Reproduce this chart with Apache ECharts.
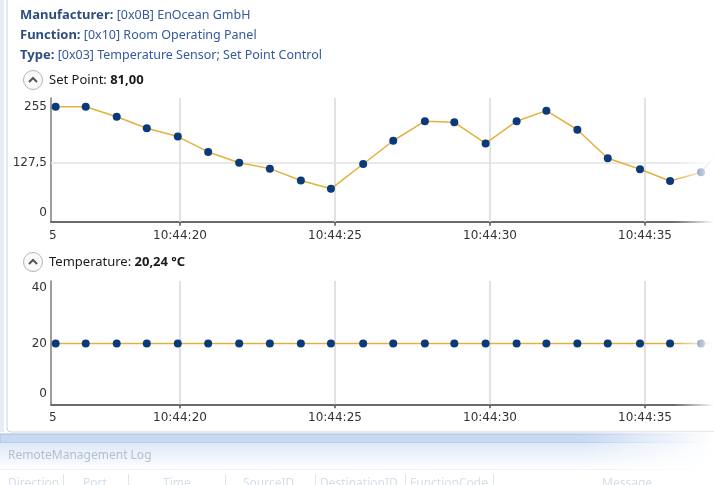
<!DOCTYPE html>
<html>
<head>
<meta charset="utf-8">
<script src="https://cdn.jsdelivr.net/npm/echarts@6/dist/echarts.min.js"></script>
<style>
  html, body { margin: 0; padding: 0; background: #fff; }
  #chart { width: 714px; height: 485px; }
</style>
</head>
<body>
<div id="chart"></div>
<script>
// seconds after 10:44:00 for every sample
const sampleTimes = [15.99, 16.96, 17.96, 18.93, 19.93, 20.91, 21.91, 22.90, 23.90, 24.87,
  25.91, 26.88, 27.90, 28.85, 29.86, 30.86, 31.82, 32.82, 33.80, 34.84, 35.81, 36.81, 37.80];
const setPoint = [255, 255, 232, 206, 187, 152, 127.5, 114, 87, 68,
  124.5, 177.5, 222, 219.5, 171.5, 222, 246, 202.5, 137.5, 112.5, 86, 105.5, 190];
const temperature = [20.24, 20.24, 20.24, 20.24, 20.24, 20.24, 20.24, 20.24, 20.24, 20.24,
  20.24, 20.24, 20.24, 20.24, 20.24, 20.24, 20.24, 20.24, 20.24, 20.24, 20.24, 20.24, 20.24];
const timeTicks = [20, 25, 30, 35];
const setPointTicks = [0, 127.5, 255];
const tempTicks = [0, 20, 40];
const logColumns = [
  { name: "Direction", x: 8 }, { name: "Port", x: 83 }, { name: "Time", x: 163 },
  { name: "SourceID", x: 243 }, { name: "DestinationID", x: 320 },
  { name: "FunctionCode", x: 410 }, { name: "Message", x: 602 }
];
const logSeparators = [63, 128, 225, 315, 405, 493];

const chart = echarts.init(document.getElementById("chart"));
const axisFont = "DejaVu Sans";
const uiFont = "Noto Sans";

const fmtNum = (v) => String(v).replace(".", ",");
const xAxisOf = (idx) => ({
  type: "value",
  gridIndex: idx,
  min: 15.84,
  max: 15.84 + 663 / 31,
  axisLine: { show: true, onZero: false, lineStyle: { color: "#6b6b6b", width: 2 } },
  axisTick: { show: true, customValues: timeTicks, length: 4, lineStyle: { color: "#555", width: 1.5 } },
  axisLabel: {
    customValues: timeTicks, margin: 8, color: "#333", fontSize: 12, fontFamily: axisFont,
    formatter: (v) => "10:44:" + v
  },
  splitLine: { show: false }
});
const yAxisOf = (idx, min, max, ticks) => ({
  type: "value",
  gridIndex: idx,
  min: min,
  max: max,
  axisLine: { show: true, onZero: false, lineStyle: { color: "#7d7d7d", width: 1.5 } },
  axisTick: { show: false },
  axisLabel: {
    customValues: ticks, margin: 4, color: "#333", fontSize: 12, fontFamily: axisFont,
    formatter: (v) => (v === 0 ? "{z|0}" : fmtNum(v)),
    rich: { z: { fontSize: 12, fontFamily: axisFont, color: "#333", padding: [0, 0, 12, 0] } }
  },
  splitLine: { show: false }
});
const gridLines = (hLine) => ({
  silent: true,
  z: 1,
  symbol: "none",
  label: { show: false },
  lineStyle: { color: "#e2e2e2", width: 2, type: "solid" },
  data: timeTicks.map((t) => ({ xAxis: t })).concat([{ yAxis: hLine, lineStyle: { width: 1.5 } }])
});
const lineSeries = (idx, values) => ({
  type: "line",
  xAxisIndex: idx,
  yAxisIndex: idx,
  z: 3,
  data: sampleTimes.map((t, i) => [t, values[i]]),
  symbol: "circle",
  symbolSize: 8,
  showAllSymbol: true,
  itemStyle: { color: "#0b3a7a" },
  lineStyle: { color: "#e3b13c", width: 1.5 },
  emphasis: { disabled: true }
});

const header = (y, label, value) => ({
  type: "text", x: 20, y: y,
  style: {
    text: "{b|" + label + "} {v|" + value + "}",
    verticalAlign: "middle",
    rich: {
      b: { fontFamily: uiFont, fontSize: 13, fontWeight: "bold", fill: "#2e4d80" },
      v: { fontFamily: uiFont, fontSize: 12.5, fill: "#35599a" }
    }
  }
});
const toggle = (y, label, value) => [
  { type: "circle", shape: { cx: 33, cy: y, r: 9.5 },
    style: { fill: "#fafafa", stroke: "#b5b5b5", lineWidth: 1 } },
  { type: "polyline", shape: { points: [[29, y + 2], [33, y - 2], [37, y + 2]] },
    style: { stroke: "#555", lineWidth: 2, fill: null } },
  { type: "text", x: 49, y: y,
    style: {
      text: "{r|" + label + "} {b|" + value + "}",
      verticalAlign: "middle",
      rich: {
        r: { fontFamily: uiFont, fontSize: 13, fill: "#1a1a1a" },
        b: { fontFamily: uiFont, fontSize: 13, fontWeight: "bold", fill: "#1a1a1a" }
      }
    } }
];

const graphics = [
  { type: "rect", shape: { x: 0, y: 0, width: 4, height: 432 }, style: { fill: "#e6edf6" } },
  { type: "rect", shape: { x: 7, y: -10, width: 740, height: 442, r: 4 },
    style: { fill: null, stroke: "#c9d3e1", lineWidth: 1 } },
  header(15, "Manufacturer:", "[0x0B] EnOcean GmbH"),
  header(35, "Function:", "[0x10] Room Operating Panel"),
  header(55, "Type:", "[0x03] Temperature Sensor; Set Point Control"),
  ...toggle(80, "Set Point:", "81,00"),
  ...toggle(262, "Temperature:", "20,24 °C"),
  { type: "text", x: 49, y: 236, style: { text: "5", verticalAlign: "middle", font: "12px " + axisFont, fill: "#333" } },
  { type: "text", x: 49, y: 418, style: { text: "5", verticalAlign: "middle", font: "12px " + axisFont, fill: "#333" } },
  // right-hand fade of the plot
  { type: "rect", z: 100, shape: { x: 674, y: 90, width: 40, height: 340 },
    style: { fill: new echarts.graphic.LinearGradient(0, 0, 1, 0, [
      { offset: 0, color: "rgba(255,255,255,0)" }, { offset: 1, color: "rgba(255,255,255,1)" }]) } },
  // log panel header band
  { type: "rect", shape: { x: 0, y: 434, width: 714, height: 9 },
    style: { fill: "#c8d9f2", stroke: "#a6bee3", lineWidth: 1 } },
  { type: "rect", shape: { x: 0, y: 443, width: 714, height: 27 },
    style: { fill: new echarts.graphic.LinearGradient(0, 0, 0, 1, [
      { offset: 0, color: "#dde9f8" }, { offset: 1, color: "#ffffff" }]) } },
  { type: "rect", z: 50, shape: { x: 580, y: 432, width: 134, height: 40 },
    style: { fill: new echarts.graphic.LinearGradient(0, 0, 1, 0, [
      { offset: 0, color: "rgba(255,255,255,0)" }, { offset: 1, color: "rgba(255,255,255,1)" }]) } },
  { type: "text", x: 8, y: 456, style: { text: "RemoteManagement Log", verticalAlign: "middle",
    font: "12px " + uiFont, fill: "#b3bfcf" } },
  { type: "line", shape: { x1: 0, y1: 469.5, x2: 714, y2: 469.5 }, style: { stroke: "#eef1f5", lineWidth: 1 } },
  ...logColumns.map((c) => ({ type: "text", x: c.x, y: 484, style: { text: c.name, verticalAlign: "middle",
    font: "12px " + uiFont, fill: "#d8dee6" } })),
  ...logSeparators.map((x) => ({ type: "line", shape: { x1: x + 0.5, y1: 474, x2: x + 0.5, y2: 485 },
    style: { stroke: "#e2e6ec", lineWidth: 1 } }))
];

chart.setOption({
  backgroundColor: "#ffffff",
  animation: false,
  grid: [
    { left: 51, top: 98, width: 663, height: 123.7 },
    { left: 51, top: 281, width: 663, height: 123.3 }
  ],
  xAxis: [xAxisOf(0), xAxisOf(1)],
  yAxis: [yAxisOf(0, -6.8, 274.8, setPointTicks), yAxisOf(1, -1.43, 42.6, tempTicks)],
  series: [
    { type: "line", xAxisIndex: 0, yAxisIndex: 0, z: 1, data: [], markLine: gridLines(127.5) },
    { type: "line", xAxisIndex: 1, yAxisIndex: 1, z: 1, data: [], markLine: gridLines(-100) },
    lineSeries(0, setPoint),
    lineSeries(1, temperature)
  ],
  graphic: graphics
});
</script>
</body>
</html>
